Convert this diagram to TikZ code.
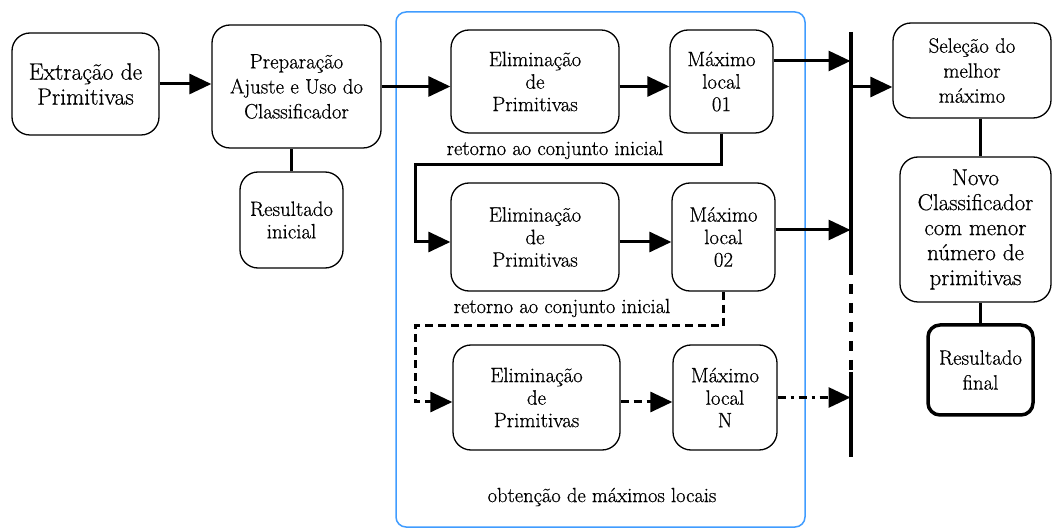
\documentclass[tikz,border=0pt]{standalone}
\usepackage{fontspec}
\newfontfamily\diagfont{Latin Modern Roman}[FakeBold=0.6]
\usetikzlibrary{arrows.meta}
\definecolor{frameblue}{RGB}{64,156,255}
\tikzset{
  box/.style={draw=black, line width=1.3pt, rounded corners=18pt, align=center, inner sep=2pt,
    font=\diagfont\fontsize{20.8}{22.5}\selectfont},
  wide/.style={font=\diagfont\fontsize{20.8}{25}\selectfont},
  exttext/.style={font=\diagfont\fontsize{23.5}{25}\selectfont},
  preptext/.style={font=\diagfont\fontsize{20.8}{25}\selectfont},
  novotext/.style={font=\diagfont\fontsize{23}{25}\selectfont},
  conn/.style={line width=3pt},
  arr/.style={conn, -{Triangle[length=22pt,width=20pt]}},
  dashedconn/.style={dash pattern=on 8pt off 5pt},
  dashdotconn/.style={dash pattern=on 8pt off 5pt on 3pt off 5pt},
  lbl/.style={font=\diagfont\fontsize{20.5}{22}\selectfont, inner sep=0pt}
}
\begin{document}
\begin{tikzpicture}[x=1pt,y=-1pt]
\useasboundingbox (0,0) rectangle (1053,529);
% blue frame
\draw[frameblue, line width=1.5pt, rounded corners=10pt] (396,12) rectangle (805,527);

\node[box, exttext, minimum width=147pt, minimum height=102pt] (ext) at (85.5,84) {Extração de\\Primitivas};
\node[box, preptext, minimum width=169pt, minimum height=123pt] (prep) at (296.5,86.5) {Preparação\\Ajuste e Uso do\\Classificador};
\node[box, minimum width=103pt, minimum height=96pt] (resi) at (291.5,220) {Resultado\\inicial};

\node[box, minimum width=168pt, minimum height=103pt] (el1) at (535,81.5) {Eliminação\\de\\Primitivas};
\node[box, minimum width=103pt, minimum height=103pt] (mx1) at (721.5,81.5) {Máximo\\local\\01};
\node[box, minimum width=168pt, minimum height=108pt] (el2) at (535,237) {Eliminação\\de\\Primitivas};
\node[box, minimum width=103pt, minimum height=108pt] (mx2) at (723.5,237) {Máximo\\local\\02};
\node[box, minimum width=167pt, minimum height=105pt] (el3) at (536.5,397.5) {Eliminação\\de\\Primitivas};
\node[box, minimum width=104pt, minimum height=105pt] (mxN) at (725,397.5) {Máximo\\local\\N};

\node[box, wide, minimum width=158pt, minimum height=95pt] (sel) at (972,70.5) {Seleção do\\melhor\\máximo};
\node[box, novotext, minimum width=151pt, minimum height=145pt] (novo) at (975.5,229.5) {Novo\\Classificador\\com menor\\número de\\primitivas};
\node[box, wide, line width=3.5pt, rounded corners=12pt, minimum width=105pt, minimum height=90pt] (resf) at (980.5,370) {Resultado\\final};

\node[lbl] (ret1) at (555,150) {retorno ao conjunto inicial};
\node[lbl] (ret2) at (562,308) {retorno ao conjunto inicial};
\node[lbl] (obt) at (602,497) {obtenção de máximos locais};

% bar
\coordinate (bar) at (850.5,32);
\coordinate (barA) at (850.5,265);
\coordinate (barB) at (850.5,372);
\coordinate (barbot) at (850.5,457);
\draw[line width=4pt] (bar) -- (barA);
\draw[line width=4pt, dash pattern=on 10pt off 9pt] (barA) -- (barB);
\draw[line width=4pt] (barB) -- (barbot);

% left connectors
\draw[arr] (ext.east) -- (ext.east -| prep.west);
\draw[conn] (resi.north) -- (resi.north |- prep.south);
\draw[arr] (prep.east) -- (prep.east -| el1.west);
\draw[arr] (el1.east |- prep.east) -- (mx1.west |- prep.east);

% to bar
\path ([yshift=20.5pt]mx1.east) coordinate (m1o);
\draw[arr] (m1o) -- (m1o -| bar);
\path ([yshift=7pt]mx2.east) coordinate (m2o);
\draw[arr] (m2o) -- (m2o -| bar);
\path (mxN.east) coordinate (mNo);
\draw[arr, dashdotconn] (mNo) -- (mNo -| bar);

% row 2
\coordinate (r1) at (415,165);
\path ([yshift=-5pt]el2.west) coordinate (e2i);
\draw[arr] (mx1.south) |- (r1) |- (e2i);
\draw[arr] ([yshift=-5pt]el2.east) -- ([yshift=-5pt]el2.east -| mx2.west);

% row 3
\coordinate (r2) at (415,326);
\path ([yshift=-4.5pt]el3.west) coordinate (e3i);
\draw[arr, dashedconn] (mx2.south) |- (r2) |- (e3i);
\draw[arr, dashedconn] ([yshift=-4.5pt]el3.east) -- ([yshift=-4.5pt]el3.east -| mxN.west);

% right column
\path ([yshift=-16.5pt]sel.west) coordinate (sin);
\draw[arr] (sin -| bar) -- (sin);
\draw[conn] (sel.south -| resf) -- (novo.north -| resf);
\draw[conn] (novo.south -| resf) -- (resf.north);
\end{tikzpicture}
\end{document}
